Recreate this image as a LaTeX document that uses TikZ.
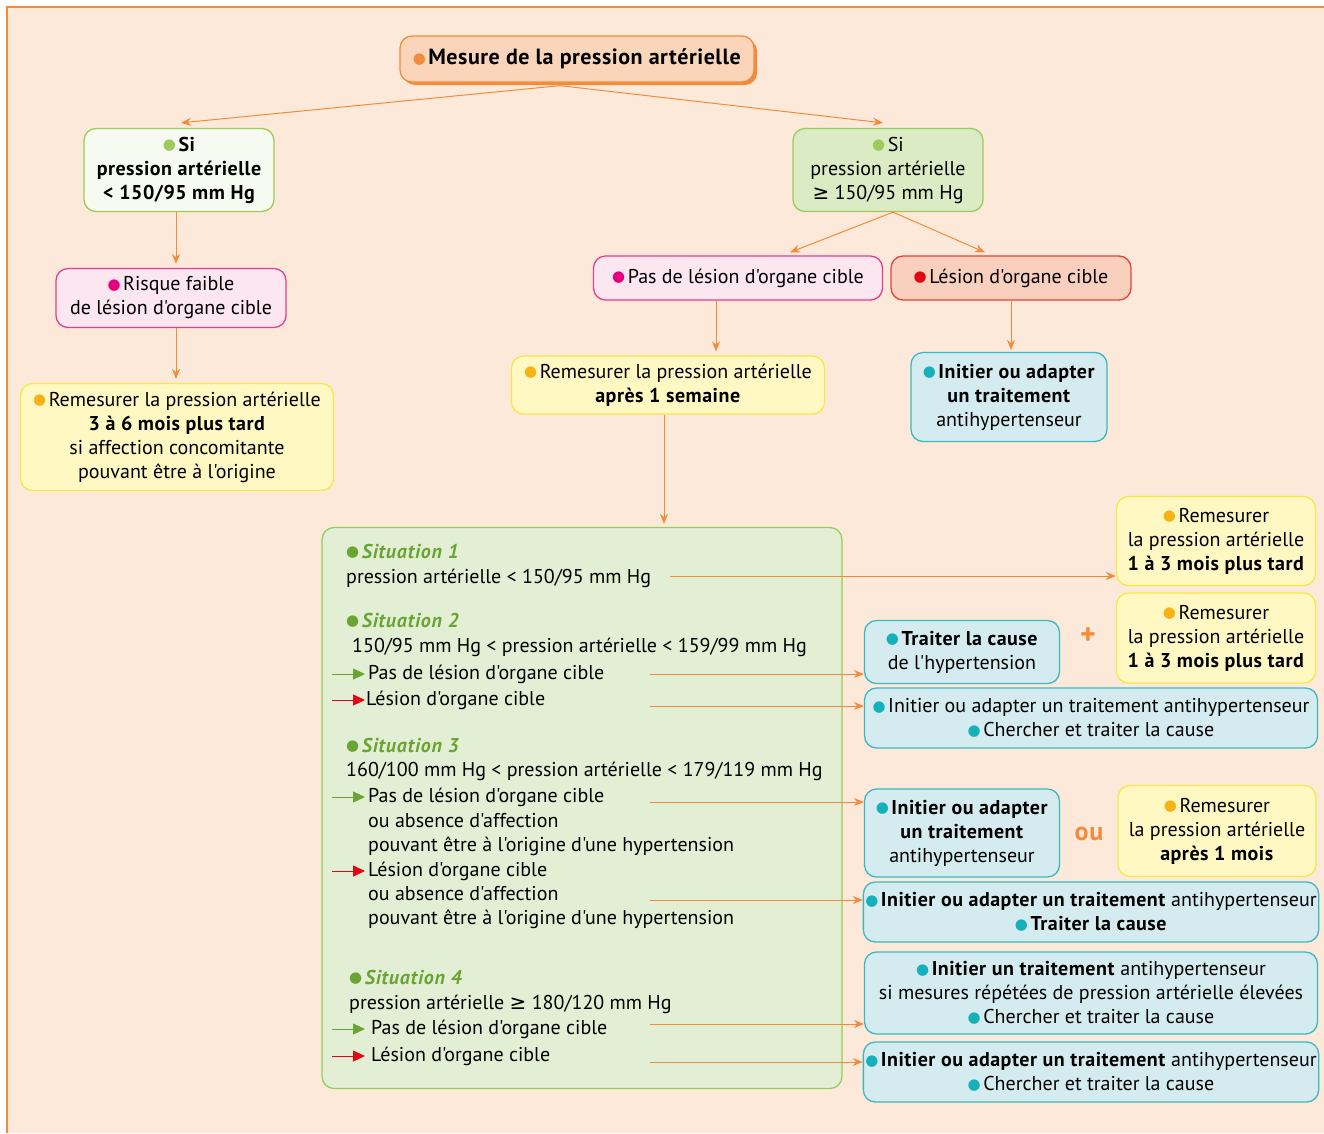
\documentclass[tikz,border=0pt]{standalone}
\usepackage{fontspec}
\setmainfont{PT Sans}[Ligatures=TeXOff,
  BoldFeatures={LetterSpace=2.5}, BoldItalicFeatures={LetterSpace=4}]
\newfontfamily\symf{DejaVu Sans}
\usetikzlibrary{arrows.meta,shadows}
\definecolor{peach}{RGB}{253,233,217}
\definecolor{arrorange}{RGB}{242,140,60}
\definecolor{titlefill}{RGB}{250,213,186}
\definecolor{greenline}{RGB}{155,203,91}
\definecolor{greenfill}{RGB}{219,235,196}
\definecolor{palegreen}{RGB}{247,250,241}
\definecolor{situfill}{RGB}{227,239,212}
\definecolor{sitgreen}{RGB}{106,164,52}
\definecolor{pinkfill}{RGB}{252,230,240}
\definecolor{magline}{RGB}{228,64,143}
\definecolor{magdot}{RGB}{230,0,126}
\definecolor{salmon}{RGB}{249,207,189}
\definecolor{redline}{RGB}{232,65,58}
\definecolor{reddot}{RGB}{227,6,19}
\definecolor{yelfill}{RGB}{255,248,194}
\definecolor{yelline}{RGB}{246,232,74}
\definecolor{yeldot}{RGB}{247,179,22}
\definecolor{cyanfill}{RGB}{212,236,239}
\definecolor{cyanline}{RGB}{61,184,193}
\definecolor{cyandot}{RGB}{22,176,186}
\newcommand{\blt}[1]{\textcolor{#1}{\raisebox{1.5pt}{\symf\fontsize{15}{15}\selectfont ●}}\hspace{2.5pt}}
\newcommand{\geqs}{{\symf ≥}}

\begin{document}
\begin{tikzpicture}[x=1pt,y=-1pt,
  every node/.style={font=\fontsize{20}{24}\selectfont},
  box/.style={rounded corners=12pt, line width=1.3pt, align=center, inner sep=2pt},
  titlebox/.style={box, draw=arrorange, fill=titlefill,
    drop shadow={shadow xshift=3pt, shadow yshift=-3pt, fill=arrorange, opacity=1}},
  ifbox/.style={box, draw=greenline, fill=greenfill},
  yelbox/.style={box, draw=yelline, fill=yelfill},
  cyanbox/.style={box, draw=cyanline, fill=cyanfill},
  pinkbox/.style={box, draw=magline, fill=pinkfill},
  redbox/.style={box, draw=redline, fill=salmon},
  txt/.style={anchor=west, inner sep=0pt, text height=14pt, text depth=4pt},
  situ/.style={txt, font=\fontsize{20}{24}\selectfont\bfseries\itshape, text=sitgreen},
  arr/.style={-{Stealth[length=10pt,width=8pt]}, draw=arrorange, line width=1pt},
  okarr/.style={-{Triangle[length=12pt,width=11pt]}, draw=sitgreen, line width=0.9pt},
  koarr/.style={-{Triangle[length=12pt,width=11pt]}, draw=reddot, line width=0.9pt},
]
\useasboundingbox (0,0) rectangle (1324,1133);
\fill[peach] (7,7) rectangle (1324,1133);
\draw[arrorange, line width=1.2pt] (7,1133) -- (7,7) -- (1324,7);

% top of the tree
\node[titlebox, minimum width=354pt, minimum height=46pt,
  font=\fontsize{22}{24}\selectfont] at (577,59) (title)
  {\blt{arrorange}\textbf{Mesure de la pression artérielle}};

\node[ifbox, fill=palegreen, minimum width=190pt, minimum height=83pt,
  font=\fontsize{20}{24}\selectfont\bfseries] at (179,170) (siL)
  {\blt{greenline}Si\\pression artérielle\\< 150/95 mm Hg};
\node[ifbox, minimum width=190pt, minimum height=83pt] at (888,170) (siR)
  {\blt{greenline}Si\\pression artérielle\\\geqs\ 150/95 mm Hg};

\node[pinkbox, minimum width=230pt, minimum height=59pt] at (171,298) (risk)
  {\blt{magdot}Risque faible\\de lésion d'organe cible};
\node[yelbox, minimum width=313pt, minimum height=107pt] at (177,437) (remL)
  {\blt{yeldot}Remesurer la pression artérielle\\\textbf{3 à 6 mois plus tard}\\si affection concomitante\\pouvant être à l'origine};

\node[pinkbox, minimum width=289pt, minimum height=44pt] at (738,278) (pasR)
  {\blt{magdot}Pas de lésion d'organe cible};
\node[redbox, minimum width=240pt, minimum height=44pt] at (1011,278) (lesR)
  {\blt{reddot}Lésion d'organe cible};
\node[yelbox, minimum width=313pt, minimum height=58pt] at (668,385) (rem1w)
  {\blt{yeldot}Remesurer la pression artérielle\\\textbf{après 1 semaine}};
\node[cyanbox, minimum width=196pt, minimum height=89pt] at (1009,397) (initA)
  {\blt{cyandot}\textbf{Initier ou adapter}\\\textbf{un traitement}\\antihypertenseur};

% the four situations
\node[box, draw=greenline, fill=situfill, minimum width=520pt, minimum height=561pt]
  at (582,808) (situ) {};

\node[situ] at (346,553) (s1h) {\blt{sitgreen}Situation 1};
\node[txt]  at (346,578) (s1t) {pression artérielle < 150/95 mm Hg};
\node[situ] at (346,622) (s2h) {\blt{sitgreen}Situation 2};
\node[txt]  at (352,647) (s2t) {150/95 mm Hg < pression artérielle < 159/99 mm Hg};
\node[txt]  at (368,674) (s2a) {Pas de lésion d'organe cible};
\node[txt]  at (366,700) (s2b) {Lésion d'organe cible};
\node[situ] at (346,747) (s3h) {\blt{sitgreen}Situation 3};
\node[txt]  at (346,771) (s3t) {160/100 mm Hg < pression artérielle < 179/119 mm Hg};
\node[txt]  at (368,797) (s3a) {Pas de lésion d'organe cible};
\node[txt]  at (368,822) (s3c) {ou absence d'affection};
\node[txt]  at (368,846) (s3d) {pouvant être à l'origine d'une hypertension};
\node[txt]  at (368,871) (s3b) {Lésion d'organe cible};
\node[txt]  at (368,895) (s3e) {ou absence d'affection};
\node[txt]  at (368,919) (s3f) {pouvant être à l'origine d'une hypertension};
\node[situ] at (349,979) (s4h) {\blt{sitgreen}Situation 4};
\node[txt]  at (349,1004) (s4t) {pression artérielle \geqs\ 180/120 mm Hg};
\node[txt]  at (371,1029) (s4a) {Pas de lésion d'organe cible};
\node[txt]  at (371,1056) (s4b) {Lésion d'organe cible};

% what to do
\node[yelbox, minimum width=199pt, minimum height=89pt] at (1216,541) (r1)
  {\blt{yeldot}Remesurer\\la pression artérielle\\\textbf{1 à 3 mois plus tard}};
\node[yelbox, minimum width=199pt, minimum height=90pt] at (1216,638) (r2)
  {\blt{yeldot}Remesurer\\la pression artérielle\\\textbf{1 à 3 mois plus tard}};
\node[cyanbox, minimum width=195pt, minimum height=63pt] at (962,652) (traiter)
  {\blt{cyandot}\textbf{Traiter la cause}\\de l'hypertension};
\node[text=arrorange, font=\fontsize{30}{30}\selectfont\bfseries] at (1088,636) (plus) {+};
\node[cyanbox, minimum width=453pt, minimum height=60pt] at (1091,718) (init2)
  {\blt{cyandot}Initier ou adapter un traitement antihypertenseur\\\blt{cyandot}Chercher et traiter la cause};
\node[cyanbox, minimum width=195pt, minimum height=88pt] at (962,833) (init3)
  {\blt{cyandot}\textbf{Initier ou adapter}\\\textbf{un traitement}\\antihypertenseur};
\node[text=arrorange, font=\fontsize{26}{26}\selectfont\bfseries] at (1089,834) (ou) {ou};
\node[yelbox, minimum width=198pt, minimum height=91pt] at (1217,831) (r3)
  {\blt{yeldot}Remesurer\\la pression artérielle\\\textbf{après 1 mois}};
\node[cyanbox, minimum width=453pt, minimum height=60pt] at (1091,912) (init4)
  {\blt{cyandot}\textbf{Initier ou adapter un traitement} antihypertenseur\\\blt{cyandot}\textbf{Traiter la cause}};
\node[cyanbox, minimum width=453pt, minimum height=82pt] at (1091,993) (init5)
  {\blt{cyandot}\textbf{Initier un traitement} antihypertenseur\\si mesures répétées de pression artérielle élevées\\\blt{cyandot}Chercher et traiter la cause};
\node[cyanbox, minimum width=453pt, minimum height=60pt] at (1091,1072) (init6)
  {\blt{cyandot}\textbf{Initier ou adapter un traitement} antihypertenseur\\\blt{cyandot}Chercher et traiter la cause};

\coordinate (o1) at (670,576);
\coordinate (o2) at (650,674);
\coordinate (o3) at (650,706);
\coordinate (o4) at (650,802);
\coordinate (o5) at (650,900);
\coordinate (o6) at (650,1024);
\coordinate (o7) at (650,1062);

\draw[arr] ([xshift=-17pt,yshift=-3pt]title.south) -- ([xshift=2pt,yshift=5pt]siL.north);
\draw[arr] ([xshift=-17pt,yshift=-3pt]title.south) -- ([xshift=-5pt,yshift=5pt]siR.north);
\draw[arr] (siL.south -| risk.north) ++(5pt,0) -- ([xshift=5pt,yshift=4pt]risk.north);
\draw[arr] ([xshift=5pt]risk.south) -- ([xshift=5pt,yshift=4pt]risk.south |- remL.north);
\draw[arr] ([xshift=5pt]siR.south) -- ([xshift=52pt,yshift=3pt]pasR.north);
\draw[arr] ([xshift=5pt]siR.south) -- ([xshift=-26pt,yshift=3pt]lesR.north);
\draw[arr] ([xshift=-22pt]pasR.south) -- ([xshift=-22pt,yshift=4pt]pasR.south |- rem1w.north);
\draw[arr] (lesR.south) -- ([yshift=2pt]lesR.south |- initA.north);
\draw[arr] ([xshift=-4pt]rem1w.south) -- ([xshift=-4pt,yshift=3pt]rem1w.south |- situ.north);

\draw[okarr] ([xshift=-36pt]s2a.west) -- ([xshift=-3pt]s2a.west);
\draw[koarr] ([xshift=-34pt]s2b.west) -- ([xshift=-1pt]s2b.west);
\draw[okarr] ([xshift=-36pt]s3a.west) -- ([xshift=-3pt]s3a.west);
\draw[koarr] ([xshift=-36pt]s3b.west) -- ([xshift=-3pt]s3b.west);
\draw[okarr] ([xshift=-39pt]s4a.west) -- ([xshift=-6pt]s4a.west);
\draw[koarr] ([xshift=-39pt]s4b.west) -- ([xshift=-6pt]s4b.west);

\draw[arr] (o1) -- (o1 -| r1.west);
\draw[arr] (o2) -- (o2 -| traiter.west);
\draw[arr] (o3) -- (o3 -| init2.west);
\draw[arr] (o4) -- (o4 -| init3.west);
\draw[arr] (o5) -- (o5 -| init4.west);
\draw[arr] (o6) -- (o6 -| init5.west);
\draw[arr] (o7) -- (o7 -| init6.west);
\end{tikzpicture}
\end{document}
